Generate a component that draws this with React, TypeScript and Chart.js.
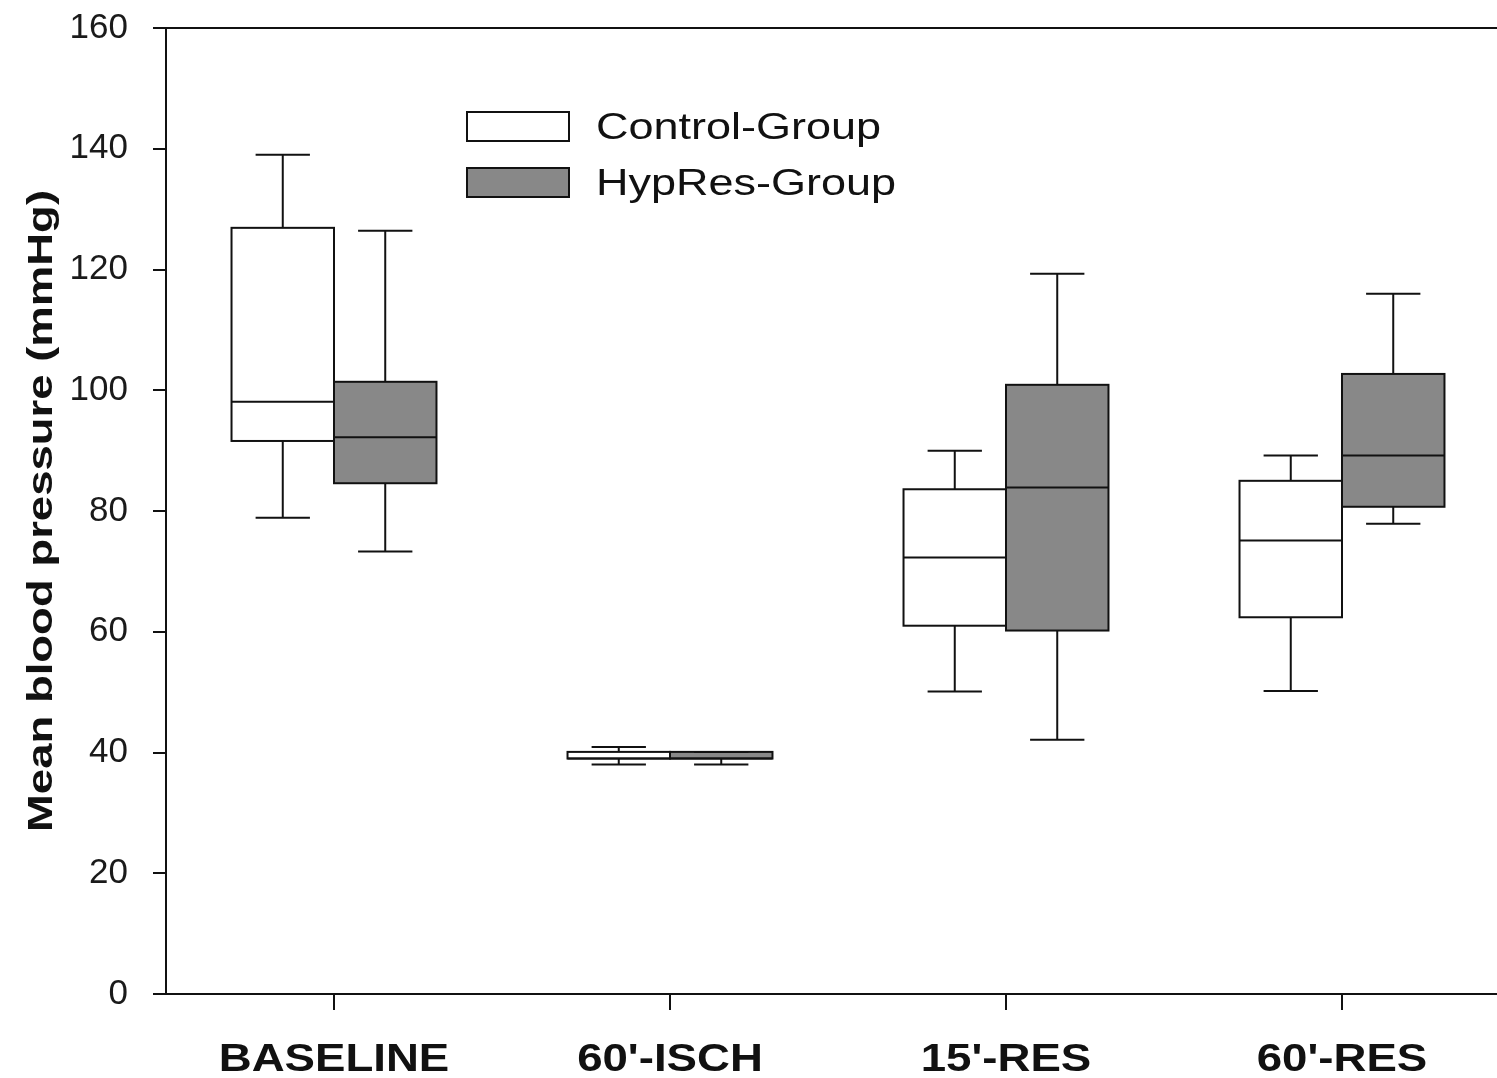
import React, { useEffect, useRef } from "react";
import { Chart, registerables } from "chart.js";

Chart.register(...registerables);

// ---- Data ----
const categories = ["BASELINE", "60'-ISCH", "15'-RES", "60'-RES"];
const seriesNames = ["Control-Group", "HypRes-Group"];

const controlMin = [78.9, 38.0, 50.1, 50.2];
const controlQ1 = [91.6, 39.0, 61.0, 62.4];
const controlMedian = [98.1, 39.0, 72.3, 75.1];
const controlQ3 = [126.9, 40.1, 83.6, 85.0];
const controlMax = [139.0, 40.9, 90.0, 89.2];

const hypresMin = [73.3, 38.0, 42.1, 77.9];
const hypresQ1 = [84.6, 39.0, 60.2, 80.7];
const hypresMedian = [92.2, 39.0, 83.9, 89.2];
const hypresQ3 = [101.4, 40.1, 100.9, 102.7];
const hypresMax = [126.4, 40.1, 119.3, 116.0];

const yTickValues = [0, 20, 40, 60, 80, 100, 120, 140, 160];
const yTitle = "Mean blood pressure (mmHg)";

// ---- Styles ----
const INK = "#111111";
const FILLS = ["#ffffff", "#888888"];
const FONT = '"Liberation Sans", Arial, sans-serif';

const stats = [
  { min: controlMin, q1: controlQ1, med: controlMedian, q3: controlQ3, max: controlMax },
  { min: hypresMin, q1: hypresQ1, med: hypresMedian, q3: hypresQ3, max: hypresMax },
];

function stretchedText(
  ctx: CanvasRenderingContext2D,
  text: string,
  x: number,
  y: number,
  sx: number,
  align: CanvasTextAlign,
  rotate = 0
) {
  ctx.save();
  ctx.translate(x, y);
  if (rotate) ctx.rotate(rotate);
  ctx.scale(sx, 1);
  ctx.textAlign = align;
  ctx.textBaseline = "alphabetic";
  ctx.fillText(text, 0, 0);
  ctx.restore();
}

const boxPlugin = {
  id: "boxWhiskers",
  afterDatasetsDraw(chart: any) {
    const ctx: CanvasRenderingContext2D = chart.ctx;
    const y = chart.scales.y;
    ctx.save();
    ctx.strokeStyle = INK;
    ctx.lineWidth = 2;
    ctx.lineCap = "butt";
    stats.forEach((s, d) => {
      const meta = chart.getDatasetMeta(d);
      meta.data.forEach((el: any, i: number) => {
        const { x, width } = el.getProps(["x", "width"], true);
        const left = x - width / 2;
        const right = x + width / 2;
        const cap = width * 0.53;
        const pMin = y.getPixelForValue(s.min[i]);
        const pQ1 = y.getPixelForValue(s.q1[i]);
        const pMed = y.getPixelForValue(s.med[i]);
        const pQ3 = y.getPixelForValue(s.q3[i]);
        const pMax = y.getPixelForValue(s.max[i]);
        ctx.beginPath();
        // upper whisker
        ctx.moveTo(x, pQ3);
        ctx.lineTo(x, pMax);
        ctx.moveTo(x - cap / 2, pMax);
        ctx.lineTo(x + cap / 2, pMax);
        // lower whisker
        ctx.moveTo(x, pQ1);
        ctx.lineTo(x, pMin);
        ctx.moveTo(x - cap / 2, pMin);
        ctx.lineTo(x + cap / 2, pMin);
        // median
        ctx.moveTo(left, pMed);
        ctx.lineTo(right, pMed);
        ctx.stroke();
        // box outline
        ctx.strokeRect(left, pQ3, width, pQ1 - pQ3);
      });
    });
    ctx.restore();
  },
  afterDraw(chart: any) {
    const ctx: CanvasRenderingContext2D = chart.ctx;
    const area = chart.chartArea;
    const xs = chart.scales.x;
    ctx.save();
    // top frame line
    ctx.strokeStyle = INK;
    ctx.lineWidth = 2;
    ctx.beginPath();
    ctx.moveTo(area.left - 13, area.top);
    ctx.lineTo(chart.width, area.top);
    ctx.stroke();

    ctx.fillStyle = INK;
    // x category labels
    ctx.font = `bold 38px ${FONT}`;
    categories.forEach((c, i) => {
      stretchedText(ctx, c, xs.getPixelForValue(i), area.bottom + 77, 1.2, "center");
    });

    // y title
    ctx.font = `bold 35px ${FONT}`;
    stretchedText(ctx, yTitle, 52, (area.top + area.bottom) / 2, 1.3, "center", -Math.PI / 2);

    // legend
    const lx = area.left + 301;
    const boxW = 102;
    const boxH = 29;
    const tops = [area.top + 84, area.top + 140];
    seriesNames.forEach((name, k) => {
      ctx.fillStyle = FILLS[k];
      ctx.fillRect(lx, tops[k], boxW, boxH);
      ctx.strokeStyle = INK;
      ctx.lineWidth = 2;
      ctx.strokeRect(lx, tops[k], boxW, boxH);
      ctx.fillStyle = INK;
      ctx.font = `36px ${FONT}`;
      stretchedText(ctx, name, lx + 129, tops[k] + 27, 1.25, "left");
    });
    ctx.restore();
  },
};

export default function App() {
  const canvasRef = useRef<HTMLCanvasElement | null>(null);

  useEffect(() => {
    const canvas = canvasRef.current;
    if (!canvas) return;
    const chart = new Chart(canvas, {
      type: "bar",
      data: {
        labels: categories,
        datasets: stats.map((s, d) => ({
          label: seriesNames[d],
          data: s.q1.map((q1, i) => [q1, s.q3[i]]),
          backgroundColor: FILLS[d],
          borderWidth: 0,
          categoryPercentage: 0.61,
          barPercentage: 1,
        })),
      },
      options: {
        responsive: false,
        animation: false,
        devicePixelRatio: 1,
        layout: { padding: { top: 28, left: 0, right: 0, bottom: 0 } },
        plugins: {
          legend: { display: false },
          tooltip: { enabled: false },
          title: { display: false },
        },
        scales: {
          x: {
            type: "category",
            offset: true,
            grid: {
              offset: false,
              drawOnChartArea: false,
              drawTicks: true,
              tickLength: 16,
              color: INK,
              lineWidth: 2,
            },
            border: { display: true, color: INK, width: 2 },
            ticks: { display: false },
            afterFit: (scale: any) => {
              scale.height = 84;
              scale.paddingLeft = 0;
              scale.paddingRight = 0;
            },
          },
          y: {
            type: "linear",
            min: 0,
            max: 160,
            afterBuildTicks: (scale: any) => {
              scale.ticks = yTickValues.map((v) => ({ value: v }));
            },
            grid: {
              drawOnChartArea: false,
              drawTicks: true,
              tickLength: 13,
              color: INK,
              lineWidth: 2,
            },
            border: { display: true, color: INK, width: 2 },
            ticks: {
              padding: 25,
              color: "#1a1a1a",
              font: { family: FONT, size: 35 },
              callback: (v: any) => String(v),
            },
            title: { display: false },
            afterFit: (scale: any) => {
              scale.width = 166;
              scale.paddingTop = 0;
              scale.paddingBottom = 0;
            },
          },
        },
      },
      plugins: [boxPlugin],
    });
    return () => chart.destroy();
  }, []);

  return (
    <div
      style={{
        position: "fixed",
        left: 0,
        top: 0,
        width: 1497,
        height: 1078,
        overflow: "hidden",
        background: "#ffffff",
      }}
    >
      <canvas ref={canvasRef} width={1510} height={1078} style={{ display: "block" }} />
    </div>
  );
}
